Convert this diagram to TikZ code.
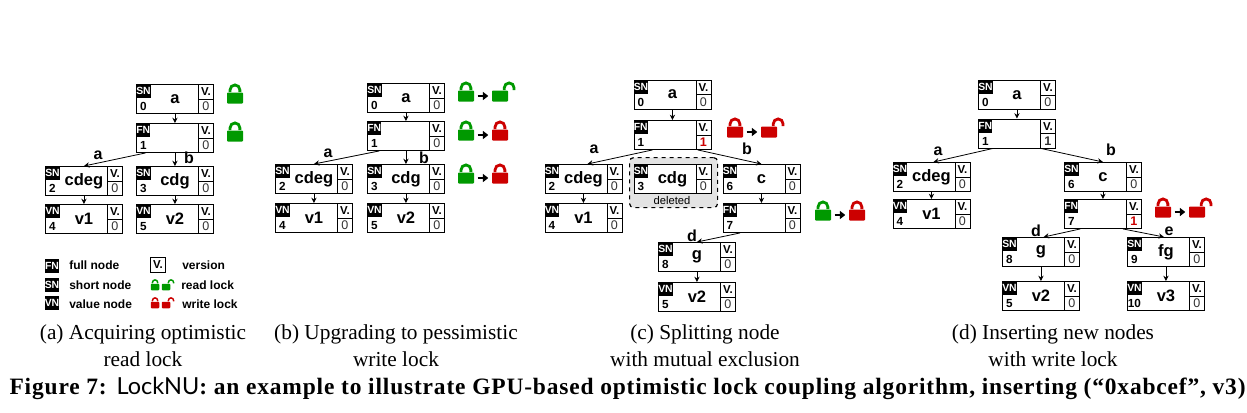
\documentclass[tikz,border=0pt]{standalone}
\usepackage{fontspec}
\setmainfont{Liberation Serif}
\setsansfont{Liberation Sans}
\newfontfamily\sysfont{Lato}
\usetikzlibrary{arrows.meta}
\definecolor{lockGreen}{HTML}{009900}
\definecolor{lockRed}{HTML}{CC0000}
\definecolor{verGray}{HTML}{333333}
\definecolor{delGray}{HTML}{E3E3E3}
\def\pxu{.75pt}
\def\nodeW{77}
\def\nodeH{29}
% #1 version, #2 name, #3 x, #4 y, #5 tag, #6 id, #7 key
\newcommand{\trienode}[7][0]{
  \node[triebox, minimum width=\nodeW*\pxu, minimum height=\nodeH*\pxu] (#2) at (#3,#4) {};
  \node[vcell, minimum height=\nodeH*\pxu/2, anchor=north east] (#2v) at (#2.north east) {V.};
  \node[vcell, minimum height=\nodeH*\pxu/2, anchor=south east, font=\sffamily\fontsize{9.4}{10}\selectfont, text=verGray] (#2c) at (#2.south east) {#1};
  \node[tagbox, anchor=north west] (#2t) at (#2.north west) {#5};
  \node[idlabel, anchor=south west] (#2i) at (#2.south west) {#6};
  \node[keylabel] (#2k) at (#2.center) {#7};
}
% #1 name, #2 x, #3 y, #4 colour
\newcommand{\lockshut}[4]{
  \node[lockbody, fill=#4] (#1) at (#2,#3) {};
  \draw[#4, line width=2.1pt] ([xshift=-3.7pt]#1.north) -- ++(0,-2.4) arc (180:360:4.9) -- ++(0,2.4);
}
\newcommand{\lockopen}[4]{
  \node[lockbody, fill=#4] (#1) at (#2,#3) {};
  \draw[#4, line width=2.1pt] ([xshift=3.2pt]#1.north) -- ++(0,-2.4) arc (180:360:4.9) -- ++(0,2.4);
}
\begin{document}
\begin{tikzpicture}[
  x=.75pt, y=-.75pt,
  >={Stealth[length=4pt,width=4pt]},
  triebox/.style={draw=black, fill=white, line width=.7pt, anchor=north west, inner sep=0pt},
  vcell/.style={draw=black, line width=.7pt, inner sep=0pt, minimum width=15*\pxu,
                font=\sffamily\bfseries\fontsize{8.6}{9}\selectfont},
  tagbox/.style={fill=black, text=white, inner sep=0pt, minimum width=14*\pxu, minimum height=14*\pxu,
                 font=\sffamily\bfseries\fontsize{7.8}{8}\selectfont},
  idlabel/.style={inner sep=0pt, minimum width=14*\pxu, minimum height=14*\pxu,
                  font=\sffamily\bfseries\fontsize{8.8}{9}\selectfont},
  keylabel/.style={inner sep=0pt, font=\sffamily\bfseries\fontsize{12.4}{13}\selectfont},
  edgelabel/.style={inner sep=0pt, font=\sffamily\bfseries\fontsize{12}{12}\selectfont},
  edgeline/.style={->, line width=.6pt},
  lockbody/.style={draw=none, rounded corners=.6pt, minimum width=16*\pxu, minimum height=11*\pxu, inner sep=0pt},
  lockarrow/.style={-{Triangle[length=4pt,width=6pt]}, line width=1.9pt, shorten <=2.6pt, shorten >=2.6pt},
  legendtext/.style={inner sep=0pt, anchor=west, font=\sffamily\bfseries\fontsize{9}{9}\selectfont},
  legendtag/.style={tagbox, minimum width=14.5*\pxu, minimum height=14.5*\pxu},
  subcap/.style={inner sep=0pt, align=center, font=\fontsize{16}{20}\selectfont},
]
\useasboundingbox (0,0) rectangle (1247,412);

% (a)
\trienode{aroot}{136}{84}{SN}{0}{a}
\trienode{afull}{136}{123}{FN}{1}{}
\trienode{acdeg}{45}{166}{SN}{2}{cdeg}
\trienode{acdg}{136}{166}{SN}{3}{cdg}
\trienode{avone}{45}{204}{VN}{4}{v1}
\trienode{avtwo}{136}{204}{VN}{5}{v2}
\draw[edgeline] (aroot.south) -- (afull.north);
\draw[edgeline] ([xshift=-22pt]afull.south) -- (acdeg.north);
\draw[edgeline] (afull.south) -- (acdg.north);
\draw[edgeline] (acdeg.south) -- (avone.north);
\draw[edgeline] (acdg.south) -- (avtwo.north);
\node[edgelabel] (alaba) at (98,155) {a};
\node[edgelabel] (alabb) at (189,158) {b};
\lockshut{alockone}{235}{98}{lockGreen}
\lockshut{alocktwo}{235}{136}{lockGreen}

% legend
\node[legendtag] (legfn) at (52,266) {FN};
\node[legendtag] (legsn) at (52,285) {SN};
\node[legendtag] (legvn) at (52,303) {VN};
\node[legendtext] (txtfn) at (69,265) {full node};
\node[legendtext] (txtsn) at (69,285) {short node};
\node[legendtext] (txtvn) at (69,304) {value node};
\node[vcell, minimum width=15*\pxu, minimum height=15*\pxu] (legv) at (158,265) {V.};
\node[legendtext] (txtv) at (182,265) {version};
\begin{scope}[lockbody/.append style={minimum width=8.5*\pxu, minimum height=6.5*\pxu}]
\node[lockbody, fill=lockGreen] (legrs) at (155,287) {};
\draw[lockGreen, line width=1.1pt] ([xshift=-1.9pt]legrs.north) -- ++(0,-1) arc (180:360:2.6) -- ++(0,1);
\node[lockbody, fill=lockGreen] (legro) at (166,287) {};
\draw[lockGreen, line width=1.1pt] ([xshift=1.8pt]legro.north) -- ++(0,-1) arc (180:360:2.6) -- ++(0,1);
\node[lockbody, fill=lockRed] (legws) at (155,305) {};
\draw[lockRed, line width=1.1pt] ([xshift=-1.9pt]legws.north) -- ++(0,-1) arc (180:360:2.6) -- ++(0,1);
\node[lockbody, fill=lockRed] (legwo) at (166,305) {};
\draw[lockRed, line width=1.1pt] ([xshift=1.8pt]legwo.north) -- ++(0,-1) arc (180:360:2.6) -- ++(0,1);
\end{scope}
\node[legendtext] (txtr) at (181,285) {read lock};
\node[legendtext] (txtw) at (182,304) {write lock};

% (b)
\trienode{broot}{367}{83}{SN}{0}{a}
\trienode{bfull}{367}{121}{FN}{1}{}
\trienode{bcdeg}{275}{164}{SN}{2}{cdeg}
\trienode{bcdg}{367}{164}{SN}{3}{cdg}
\trienode{bvone}{275}{203}{VN}{4}{v1}
\trienode{bvtwo}{367}{203}{VN}{5}{v2}
\draw[edgeline] (broot.south) -- (bfull.north);
\draw[edgeline] ([xshift=-20pt]bfull.south) -- (bcdeg.north);
\draw[edgeline] (bfull.south) -- (bcdg.north);
\draw[edgeline] (bcdeg.south) -- (bvone.north);
\draw[edgeline] (bcdg.south) -- (bvtwo.north);
\node[edgelabel] (blaba) at (328,153) {a};
\node[edgelabel] (blabb) at (424,158) {b};
\lockshut{blockoa}{466}{96}{lockGreen}
\lockopen{blockob}{500}{96}{lockGreen}
\lockshut{blockta}{466}{135}{lockGreen}
\lockshut{blocktb}{500}{135}{lockRed}
\lockshut{blockda}{466}{178}{lockGreen}
\lockshut{blockdb}{500}{178}{lockRed}
\draw[lockarrow] (blockoa) -- (blockob);
\draw[lockarrow] (blockta) -- (blocktb);
\draw[lockarrow] (blockda) -- (blockdb);

% (c)
\node[draw=black, dashed, line width=.9pt, fill=delGray, rounded corners=3pt, anchor=north west,
      minimum width=88*\pxu, minimum height=50*\pxu] (cdel) at (629,157) {};
\node[inner sep=0pt, font=\sffamily\fontsize{8.4}{9}\selectfont] (cdeltxt) at (672,200) {deleted};
\trienode{croot}{633.5}{79.5}{SN}{0}{a}
\trienode[\textcolor{lockRed}{\textbf{1}}]{cfull}{633.5}{120}{FN}{1}{}
\trienode{ccdeg}{544.5}{164}{SN}{2}{cdeg}
\trienode{ccdg}{633.5}{164}{SN}{3}{cdg}
\trienode{cc}{722.5}{164}{SN}{6}{c}
\trienode{cvone}{544.5}{203}{VN}{4}{v1}
\trienode{cfullb}{722.5}{203}{FN}{7}{}
\trienode{cg}{658}{242}{SN}{8}{g}
\trienode{cvtwo}{658}{282}{VN}{5}{v2}
\draw[edgeline] (croot.south) -- (cfull.north);
\draw[edgeline] ([xshift=-15pt]cfull.south) -- ([xshift=3pt]ccdeg.north);
\draw[edgeline] ([xshift=19pt]cfull.south) -- (cc.north);
\draw[edgeline] (ccdeg.south) -- (cvone.north);
\draw[edgeline] (cc.south) -- (cfullb.north);
\draw[edgeline] ([xshift=-16pt]cfullb.south) -- (cg.north);
\draw[edgeline] (cg.south) -- (cvtwo.north);
\node[edgelabel] (claba) at (594,149) {a};
\node[edgelabel] (clabb) at (747,149) {b};
\node[edgelabel] (clabd) at (692,236) {d};
\lockshut{clockoa}{735}{132}{lockRed}
\lockopen{clockob}{769}{132}{lockRed}
\lockshut{clockta}{823}{215}{lockGreen}
\lockshut{clocktb}{857}{215}{lockRed}
\draw[lockarrow] (clockoa) -- (clockob);
\draw[lockarrow] (clockta) -- (clocktb);

% (d)
\trienode{droot}{978}{80}{SN}{0}{a}
\trienode[\textbf{1}]{dfull}{978}{118.5}{FN}{1}{}
\trienode{dcdeg}{892.5}{162}{SN}{2}{cdeg}
\trienode{dc}{1064}{162}{SN}{6}{c}
\trienode{dvone}{892.5}{199}{VN}{4}{v1}
\trienode[\textcolor{lockRed}{\textbf{1}}]{dfullb}{1064}{199}{FN}{7}{}
\trienode{dg}{1002}{237}{SN}{8}{g}
\trienode{dfg}{1127}{237}{SN}{9}{fg}
\trienode{dvtwo}{1002}{281}{VN}{5}{v2}
\trienode{dvthr}{1127}{281}{VN}{10}{v3}
\draw[edgeline] (droot.south) -- (dfull.north);
\draw[edgeline] ([xshift=-18pt]dfull.south) -- ([xshift=1.5pt]dcdeg.north);
\draw[edgeline] ([xshift=18pt]dfull.south) -- (dc.north);
\draw[edgeline] (dcdeg.south) -- (dvone.north);
\draw[edgeline] (dc.south) -- (dfullb.north);
\draw[edgeline] ([xshift=-17pt]dfullb.south) -- ([xshift=2pt]dg.north);
\draw[edgeline] ([xshift=15pt]dfullb.south) -- ([xshift=-1.5pt]dfg.north);
\draw[edgeline] (dg.south) -- (dvtwo.north);
\draw[edgeline] (dfg.south) -- (dvthr.north);
\node[edgelabel] (dlaba) at (938,151) {a};
\node[edgelabel] (dlabb) at (1111,150) {b};
\node[edgelabel] (dlabd) at (1036,231) {d};
\node[edgelabel] (dlabe) at (1169,231) {e};
\lockshut{dlocka}{1163}{212}{lockRed}
\lockopen{dlockb}{1197}{212}{lockRed}
\draw[lockarrow] (dlocka) -- (dlockb);

% captions
\node[subcap] (capa) at (143,345.5) {(a) Acquiring optimistic\\read lock};
\node[subcap] (capb) at (396,345.5) {(b) Upgrading to pessimistic\\write lock};
\node[subcap] (capc) at (705,345.5) {(c) Splitting node\\with mutual exclusion};
\node[subcap] (capd) at (1053,345.5) {(d) Inserting new nodes\\with write lock};
\node[inner sep=0pt, font=\fontsize{17.6}{18}\selectfont] (capfig) at (628,388)
  {\addfontfeature{LetterSpace=3.5}\textbf{Figure 7:} {\sysfont LockNU}\textbf{: an example to illustrate GPU-based optimistic lock coupling algorithm, inserting (``0xabcef'', v3)}};
\end{tikzpicture}
\end{document}
